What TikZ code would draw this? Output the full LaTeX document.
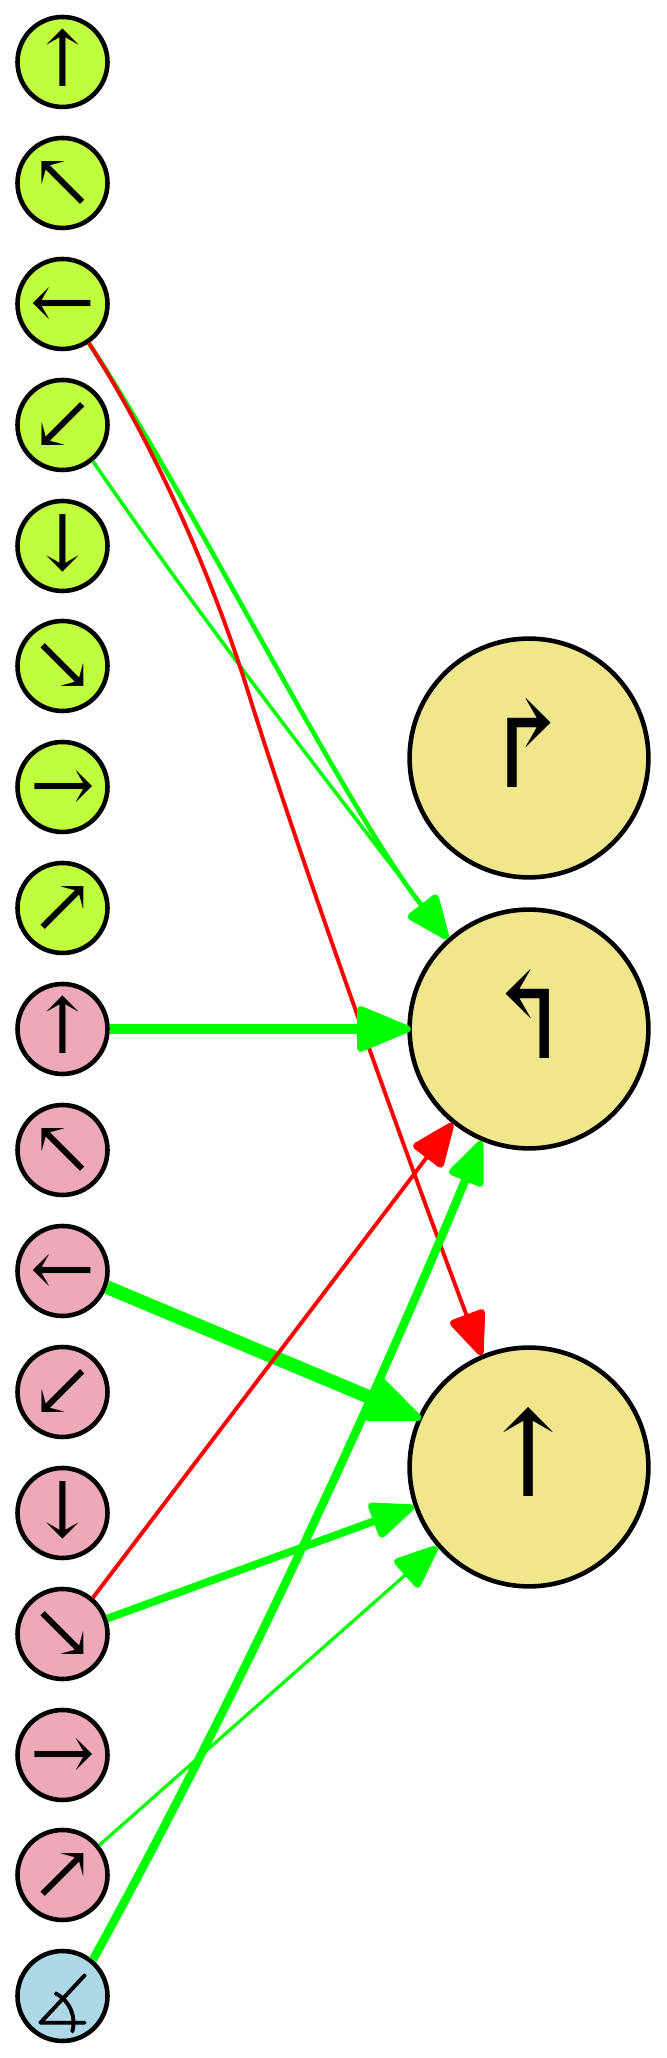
\documentclass[tikz,border=0pt]{standalone}
\usepackage{fontspec}
\usetikzlibrary{arrows.meta}
\newfontfamily\arrowfont{DejaVu Serif}
\newfontfamily\anglefont{Latin Modern Math}[FakeBold=1.5]
\definecolor{excfill}{HTML}{C0FF3E}
\definecolor{inhfill}{HTML}{EEA9B8}
\definecolor{cuefill}{HTML}{ADD8E6}
\definecolor{outfill}{HTML}{F0E68C}
\tikzset{
	small/.style={circle, draw, line width=1.3pt, minimum size=0.9cm, inner sep=0pt, text height=0.5cm, text depth=0cm, font=\arrowfont\fontsize{22}{26}\selectfont},
	big/.style={circle, draw, line width=1.3pt, minimum size=2.388cm, inner sep=0pt, fill=outfill, text height=0.72cm, text depth=0.13cm, font=\arrowfont\fontsize{34}{40}\selectfont},
	headS/.style={-{Triangle[length=14pt, width=11pt, round, line width=2pt]}},
	headL/.style={-{Triangle[length=17pt, width=13.5pt, round, line width=2pt]}, shorten >=-1pt},
}
\begin{document}
\begin{tikzpicture}
	\useasboundingbox (0, 0) rectangle (6.67, 20.58);
	
	\node[small, fill=excfill] (A1) at (0.625, 19.96) {↑};
	\node[small, fill=excfill] (A2) at (0.625, 18.75) {↖};
	\node[small, fill=excfill] (A3) at (0.625, 17.54) {←};
	\node[small, fill=excfill] (A4) at (0.625, 16.33) {↙};
	\node[small, fill=excfill] (A5) at (0.625, 15.12) {↓};
	\node[small, fill=excfill] (A6) at (0.625, 13.92) {↘};
	\node[small, fill=excfill] (A7) at (0.625, 12.71) {→};
	\node[small, fill=excfill] (A8) at (0.625, 11.50) {↗};
	
	\node[small, fill=inhfill] (B1) at (0.625, 10.29) {↑};
	\node[small, fill=inhfill] (B2) at (0.625, 9.08) {↖};
	\node[small, fill=inhfill] (B3) at (0.625, 7.87) {←};
	\node[small, fill=inhfill] (B4) at (0.625, 6.66) {↙};
	\node[small, fill=inhfill] (B5) at (0.625, 5.45) {↓};
	\node[small, fill=inhfill] (B6) at (0.625, 4.24) {↘};
	\node[small, fill=inhfill] (B7) at (0.625, 3.03) {→};
	\node[small, fill=inhfill] (B8) at (0.625, 1.83) {↗};
	
	\node[small, fill=cuefill, font=\anglefont\fontsize{20}{24}\selectfont, text height=0.58cm, text depth=0cm] (C) at (0.625, 0.62) {∡};
	
	\node[big] (R) at (5.29, 13.0) {↱};
	\node[big] (L) at (5.29, 10.29) {↰};
	\node[big] (F) at (5.29, 5.91) {↑};
	
	\coordinate (a) at (1.9, 15.6);
	\coordinate (b) at (3.45, 12.5);
	\draw[line width=1.3pt, green, headS](A3.-56) .. controls (a) and (b) .. (L.132);
	
	\coordinate (c) at (2.0, 14.4);
	\coordinate (d) at (3.4, 12.6);
	\draw[line width=1pt, green, headS](A4.-50) .. controls (c) and (d) .. (L.132);
	
	\coordinate (e) at (1.5, 16.2);
	\coordinate (f) at (2.1, 14.9);
	\coordinate (m) at (2.5, 13.6);
	\coordinate (n) at (3.0, 12.0);
	\coordinate (o) at (4.0, 9.2);
	\draw[line width=1.1pt, red, headS](A3.-56) .. controls (e) and (f) .. (m) .. controls (n) and (o) .. (F.113);
	
	\draw[line width=2.9pt, green, headL](B1) -- (L);
	\draw[line width=3.9pt, green, headL](B3.-20) -- (F.156);
	\draw[line width=1.1pt, red, headS](B6.50) -- (L.231);
	\draw[line width=2.2pt, green, headS](B6.19) -- (F.199);
	\draw[line width=0.9pt, green, headS](B8.39) -- (F.221);
	
	\coordinate (g) at (2.15, 3.2);
	\coordinate (h) at (3.5, 6.0);
	\draw[line width=2.4pt, green, headS](C.50) .. controls (g) and (h) .. (L.247);
\end{tikzpicture}
\end{document}
